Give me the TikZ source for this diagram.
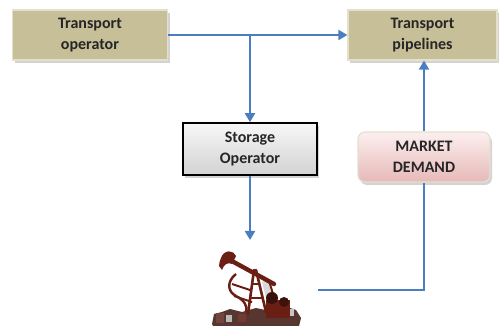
\documentclass[tikz,border=0pt]{standalone}
\usepackage{fontspec}
\setmainfont{Carlito}
\usetikzlibrary{arrows.meta,shadows,calc}
\definecolor{tanfill}{HTML}{C7BF98}
\definecolor{tanedge}{HTML}{E4E0CC}
\definecolor{pinktop}{HTML}{FCEFEF}
\definecolor{pinkbot}{HTML}{E6B9B8}
\definecolor{flow}{HTML}{4A7EC0}
\definecolor{pumpred}{HTML}{6B1E14}
\definecolor{pumpdark}{HTML}{3A120C}
\tikzset{
  x=1pt, y=-1pt,
  every node/.style={font=\bfseries\fontsize{16}{21}\selectfont, align=center, text=black!85},
  tanbox/.style={draw=tanedge, line width=1.2pt, fill=tanfill, minimum height=50pt,
    drop shadow={shadow xshift=2pt, shadow yshift=-3pt, opacity=0.35}},
  greybox/.style={draw=black, line width=1.6pt, top color=gray!6, bottom color=gray!35,
    minimum width=134pt, minimum height=52pt,
    drop shadow={shadow xshift=2pt, shadow yshift=-3pt, opacity=0.35}},
  pinkbox/.style={draw=tanedge, line width=1.2pt, rounded corners=7pt,
    top color=pinktop, bottom color=pinkbot,
    minimum width=132pt, minimum height=50pt,
    drop shadow={shadow xshift=2pt, shadow yshift=-3pt, opacity=0.35}},
  flowline/.style={draw=flow, line width=2pt},
  flowarrow/.style={flowline, -{Triangle[width=10pt,length=9pt]}},
}
\begin{document}
\begin{tikzpicture}
\useasboundingbox (0,0) rectangle (499,331);
% boxes
\node[tanbox, minimum width=155pt] (top) at (90,35) {Transport\\operator};
\node[tanbox, minimum width=149pt] (pipe) at (422.5,35) {Transport\\pipelines};
\node[greybox] (store) at (250,149) {Storage\\Operator};
\node[pinkbox] (demand) at (424,157) {MARKET\\DEMAND};

% pumpjack
% ground clutter
\fill[pumpdark!85] (212,324) -- (214,314) -- (222,312) -- (230,309) -- (242,312) -- (256,308) -- (270,311) -- (284,306) -- (296,310) -- (301,318) -- (299,326) -- (213,326) -- cycle;
\fill[pumpred!60!gray] (216,313) rectangle (224,323);
\fill[gray!55] (226,315) rectangle (232,322);
\fill[pumpred!70!gray] (238,314) rectangle (246,322);
\fill[gray!45] (286,309) rectangle (294,316);
% crank arms seen in perspective
\draw[pumpred, line width=2.4pt] (236,274) .. controls (226,282) and (228,292) .. (236,296);
\draw[pumpred, line width=2.4pt] (236,296) .. controls (244,300) and (248,306) .. (246,312);
\draw[pumpred, line width=2pt] (232,284) -- (250,290);
\draw[pumpred, line width=2pt] (234,296) -- (252,302);
% samson post
\draw[pumpred, line width=2.6pt, line cap=round] (254,270) -- (248,314);
\draw[pumpred, line width=2.6pt, line cap=round] (256,270) -- (266,312);
\draw[pumpred, line width=1.4pt] (250,298) -- (264,298);
\draw[pumpred, line width=1.4pt] (252,284) -- (260,284);
% pitman and panel
\fill[gray!30] (262,282) -- (268,280) -- (272,296) -- (266,298) -- cycle;
\draw[pumpred, line width=2pt] (270,284) -- (276,304);
% walking beam
\draw[pumpred, line width=4.4pt, line cap=round] (230,260) -- (274,284);
% horse head
\fill[pumpred] (221,258) .. controls (224,249) and (234,250) .. (236,256) -- (232,264) .. controls (228,262) and (224,264) .. (222,270) -- (219,266) .. controls (219,263) and (220,260) .. (221,258) -- cycle;
% engine and gear box
\fill[pumpred] (266,300) rectangle (290,318);
\fill[pumpdark] (272,298) circle (6pt);
\fill[pumpred!60!black] (284,302) circle (5pt);
\coordinate (pump) at (318,290);

% connectors
\coordinate (split) at (store.north |- top.east);
\draw[flowarrow] (top.east) -- (pipe.west);
\draw[flowarrow] (split) -- (store.north);
\draw[flowarrow] (store.south) -- (250,240);
\coordinate (corner) at (demand.south |- pump);
\draw[flowline] (pump) -- (corner) -- (demand.south);
\draw[flowarrow] (demand.north) -- (pipe.south -| demand.north);
\end{tikzpicture}
\end{document}
